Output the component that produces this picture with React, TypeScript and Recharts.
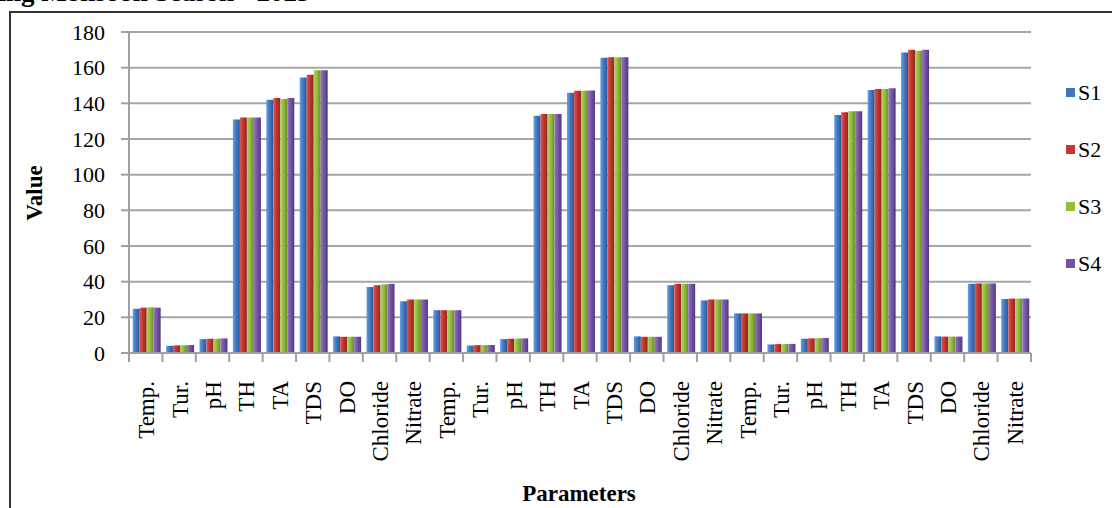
import React from 'react';
import { BarChart, Bar, XAxis, YAxis, CartesianGrid, Legend } from 'recharts';

const categories = [
  'Temp.', 'Tur.', 'pH', 'TH', 'TA', 'TDS', 'DO', 'Chloride', 'Nitrate',
  'Temp.', 'Tur.', 'pH', 'TH', 'TA', 'TDS', 'DO', 'Chloride', 'Nitrate',
  'Temp.', 'Tur.', 'pH', 'TH', 'TA', 'TDS', 'DO', 'Chloride', 'Nitrate',
];
const s1 = [24.8, 4.0, 7.8, 131, 142, 154.5, 9.3, 37, 29, 24, 4.2, 7.8, 133, 146, 165.5, 9.3, 38, 29.5, 22.2, 4.8, 8.0, 133.5, 147.5, 168.5, 9.3, 38.8, 30.3];
const s2 = [25.4, 4.3, 8.0, 132, 143, 156, 9.1, 38, 30, 24, 4.4, 8.0, 134, 147, 165.8, 9.1, 38.8, 30, 22.2, 5.0, 8.2, 135, 148, 170, 9.2, 39, 30.5];
const s3 = [25.6, 4.3, 8.0, 132, 142.5, 158.5, 9.1, 38.5, 30, 24, 4.4, 8.1, 134, 147, 165.8, 9.1, 38.8, 30, 22.2, 5.0, 8.3, 135.5, 148, 169.5, 9.2, 39, 30.5];
const s4 = [25.4, 4.5, 8.2, 132, 143, 158.5, 9.1, 38.8, 30, 24, 4.5, 8.2, 134, 147.2, 165.8, 9.1, 38.8, 30, 22.2, 5.1, 8.4, 135.5, 148.5, 170, 9.2, 39, 30.5];
const seriesNames = ['S1', 'S2', 'S3', 'S4'];
const yTicks = [0, 20, 40, 60, 80, 100, 120, 140, 160, 180];

const data = categories.map((c, i) => ({ name: c, S1: s1[i], S2: s2[i], S3: s3[i], S4: s4[i] }));

const COLORS: Record<string, [string, string, string]> = {
  S1: ['#6a9fe0', '#4279c4', '#2c5895'],
  S2: ['#dc5a52', '#c4352f', '#8e2622'],
  S3: ['#b2d466', '#94bc3e', '#6c8b2a'],
  S4: ['#9475c6', '#7655a6', '#52397a'],
};
const LEGEND_COLORS: Record<string, string> = { S1: '#3f74be', S2: '#c43631', S3: '#93bd3c', S4: '#7452a3' };

const FONT = 'Liberation Serif, Times New Roman, serif';
const W = 1112;
const H = 508;
const PLOT_LEFT = 129;
const PLOT_RIGHT = 1031;
const PLOT_TOP = 32;
const PLOT_BOTTOM = 353;
const BAND = (PLOT_RIGHT - PLOT_LEFT) / categories.length;

const XTick = (props: any) => {
  const { x, payload, index } = props;
  const left = x - BAND / 2;
  return (
    <g>
      <line x1={left} y1={PLOT_BOTTOM} x2={left} y2={PLOT_BOTTOM + 9} stroke="#a0a0a0" strokeWidth={2} />
      {index === categories.length - 1 && (
        <line x1={x + BAND / 2} y1={PLOT_BOTTOM} x2={x + BAND / 2} y2={PLOT_BOTTOM + 9} stroke="#a0a0a0" strokeWidth={2} />
      )}
      <text
        transform={`translate(${x + 1},${PLOT_BOTTOM + 28}) rotate(-90)`}
        textAnchor="end"
        dominantBaseline="central"
        style={{ fontFamily: FONT }}
        fontSize={23}
        fill="#000"
      >
        {payload.value}
      </text>
    </g>
  );
};

const YTick = (props: any) => {
  const { x, y, payload } = props;
  return (
    <text x={x} y={y} textAnchor="end" dominantBaseline="central" style={{ fontFamily: FONT }} fontSize={22} fill="#000">
      {payload.value}
    </text>
  );
};

const renderLegend = () => (
  <div style={{ fontFamily: FONT, fontSize: 22, color: '#000', lineHeight: 1 }}>
    {seriesNames.map((n) => (
      <div key={n} style={{ display: 'flex', alignItems: 'center', height: 57 }}>
        <span style={{ display: 'inline-block', width: 9, height: 9, background: LEGEND_COLORS[n], marginRight: 3 }} />
        <span style={{ fontFamily: FONT }}>{n}</span>
      </div>
    ))}
  </div>
);

export default function App() {
  return (
    <div style={{ position: 'absolute', left: 0, top: 0, width: W, height: H, overflow: 'hidden', background: '#fff' }}>
      <div
        style={{
          position: 'absolute', left: -48, top: -18, fontFamily: FONT, fontWeight: 'bold', fontSize: 27,
          lineHeight: '20px', whiteSpace: 'nowrap', color: '#000',
        }}
      >
        During Monsoon Season - 2023
      </div>
      <div style={{ position: 'absolute', left: 9, top: 11, width: W, height: H, borderLeft: '2px solid #333', borderTop: '2px solid #333' }} />
      <div style={{ position: 'absolute', left: 0, top: 0 }}>
        <BarChart
          width={W}
          height={H}
          data={data}
          margin={{ top: PLOT_TOP, right: W - PLOT_RIGHT, left: 0, bottom: 0 }}
          barCategoryGap="11%"
          barGap={0}
        >
          <defs>
            {seriesNames.map((n) => (
              <linearGradient key={n} id={`grad-${n}`} x1="0" y1="0" x2="1" y2="0">
                <stop offset="0%" stopColor={COLORS[n][0]} />
                <stop offset="45%" stopColor={COLORS[n][1]} />
                <stop offset="100%" stopColor={COLORS[n][2]} />
              </linearGradient>
            ))}
          </defs>
          <CartesianGrid vertical={false} stroke="#a6a6a6" strokeWidth={2} />
          <XAxis
            dataKey="name"
            interval={0}
            height={H - PLOT_BOTTOM}
            tickLine={false}
            tick={<XTick />}
            axisLine={{ stroke: '#a0a0a0', strokeWidth: 2 }}
            allowDuplicatedCategory
            label={{
              content: () => (
                <text x={579} y={501} textAnchor="middle" style={{ fontFamily: FONT }} fontWeight="bold" fontSize={23} fill="#000">
                  Parameters
                </text>
              ),
            }}
          />
          <YAxis
            width={PLOT_LEFT}
            domain={[0, 180]}
            ticks={yTicks}
            interval={0}
            tickSize={8}
            tickMargin={16}
            axisLine={{ stroke: '#a0a0a0', strokeWidth: 2 }}
            tickLine={{ stroke: '#a0a0a0', strokeWidth: 2 }}
            tick={<YTick />}
            label={{
              content: () => (
                <text
                  transform="translate(34,193) rotate(-90)"
                  textAnchor="middle"
                  dominantBaseline="central"
                  style={{ fontFamily: FONT }}
                  fontWeight="bold"
                  fontSize={23}
                  fill="#000"
                >
                  Value
                </text>
              ),
            }}
          />
          <Legend
            layout="vertical"
            align="center"
            verticalAlign="middle"
            content={renderLegend}
            wrapperStyle={{ left: 1066, top: 64, width: 46 }}
          />
          {seriesNames.map((n) => (
            <Bar key={n} dataKey={n} fill={`url(#grad-${n})`} isAnimationActive={false} />
          ))}
        </BarChart>
      </div>
    </div>
  );
}
